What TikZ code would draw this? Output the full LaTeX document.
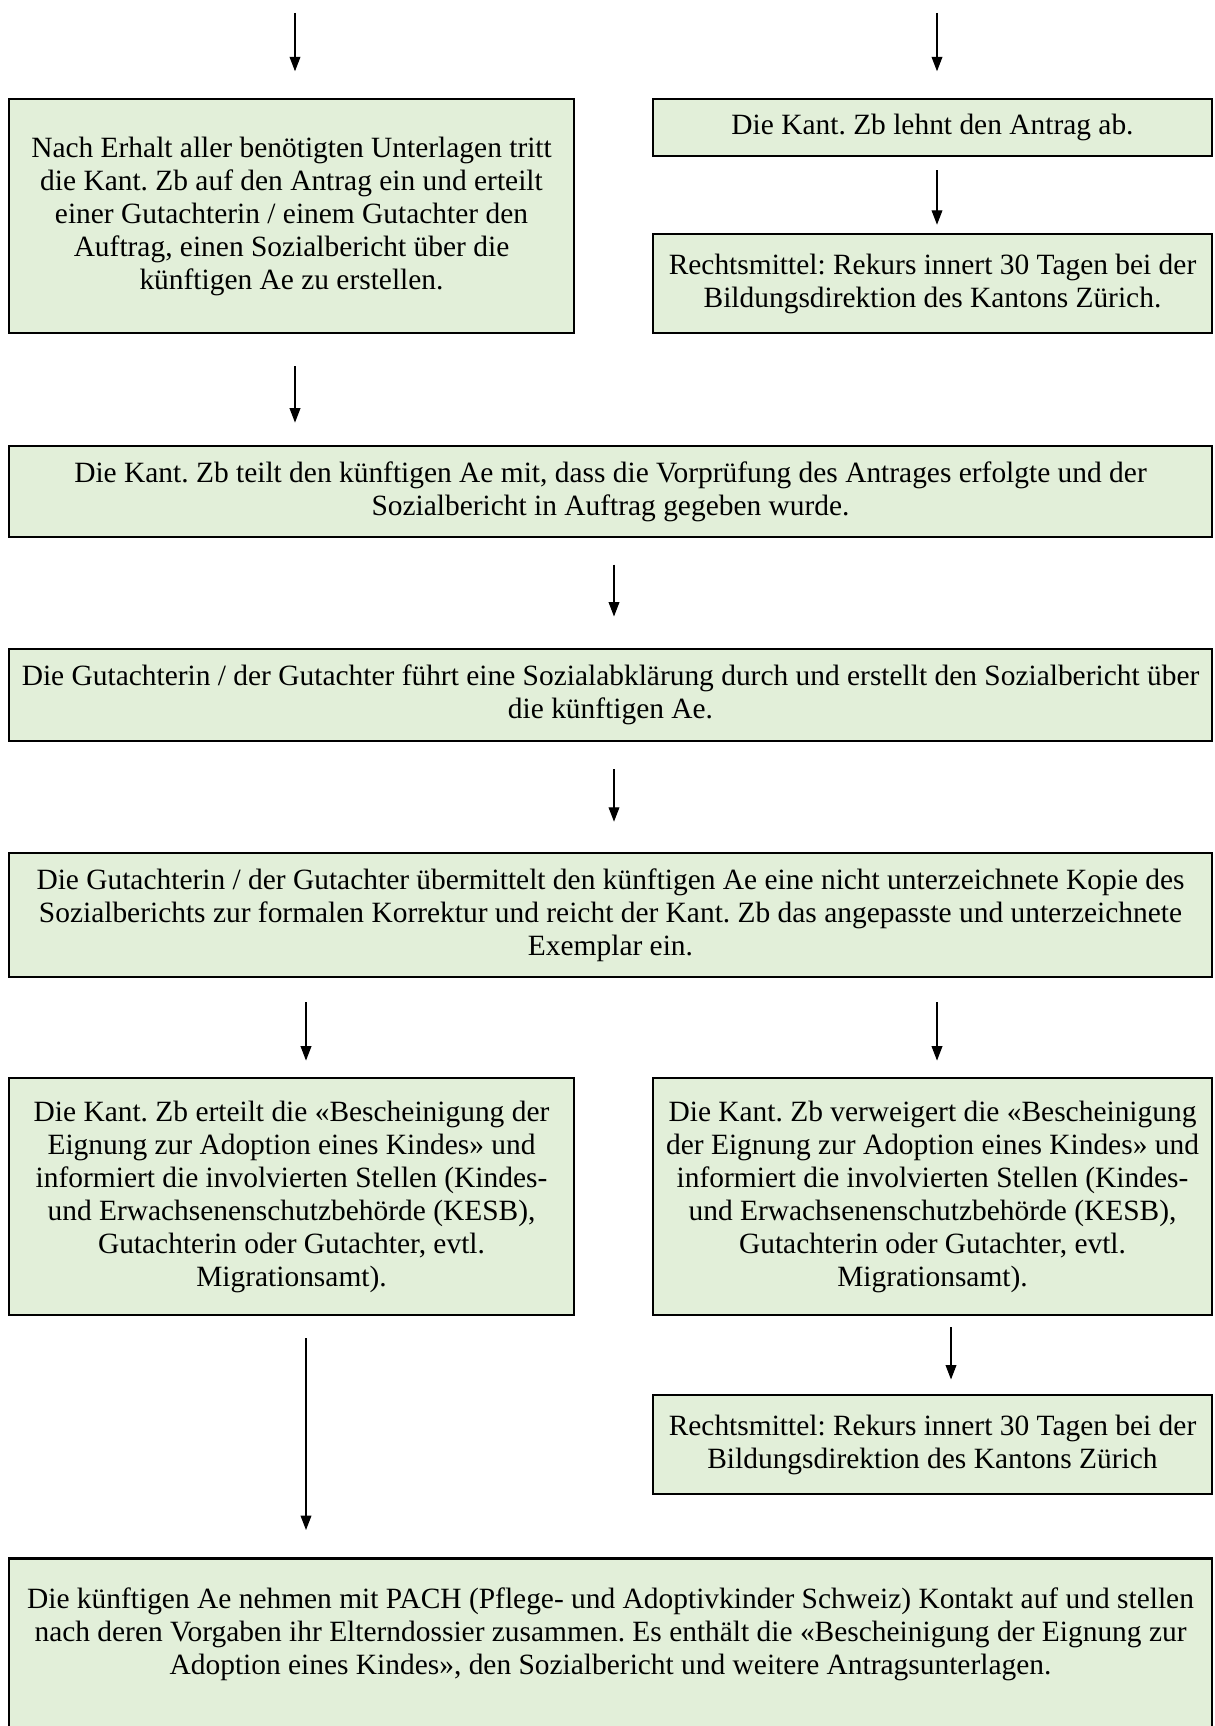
\documentclass[tikz,border=0pt]{standalone}
\usepackage{fontspec}
\setmainfont{Liberation Serif}
\usetikzlibrary{arrows.meta}
\definecolor{cbox}{HTML}{E2EFD9}
\newcommand{\pxu}{0.418pt}
\frenchspacing
\tikzset{
  stepbox/.style={draw, line width=1.2pt, fill=cbox, align=center, inner sep=0pt, font=\fontsize{12.3}{13.8}\selectfont},
  boxtext/.style={align=center, inner sep=0pt, font=\fontsize{12.3}{13.8}\selectfont},
  arr/.style={-{Triangle[width=4.5pt,length=6pt]}, line width=0.45pt},
}
\begin{document}
\begin{tikzpicture}[x=0.418pt,y=-0.418pt]
\useasboundingbox (0,0) rectangle (1215,1726);
\clip (0,0) rectangle (1215,1726);
% columns of the arrows
\coordinate (cL) at (295,0);
\coordinate (cR) at (937,0);
\coordinate (cM) at (614,0);
\coordinate (cL2) at (306,0);
\coordinate (cR2) at (951,0);
\coordinate (inL) at (295,13);
\coordinate (inR) at (937,13);
% boxes
\node[stepbox, minimum width=565*\pxu, minimum height=234*\pxu] (L1) at (291.5,216)
  {Nach Erhalt aller benötigten Unterlagen tritt\\die Kant. Zb auf den Antrag ein und erteilt\\einer Gutachterin / einem Gutachter den\\Auftrag, einen Sozialbericht über die\\künftigen Ae zu erstellen.};
\node[stepbox, minimum width=559*\pxu, minimum height=57*\pxu] (R1) at (932.5,127.5)
  {Die Kant. Zb lehnt den Antrag ab.};
\node[stepbox, minimum width=559*\pxu, minimum height=99*\pxu] (R2) at (932.5,283.5)
  {Rechtsmittel: Rekurs innert 30 Tagen bei der\\Bildungsdirektion des Kantons Zürich.};
\node[stepbox, minimum width=1203*\pxu, minimum height=91*\pxu] (B3) at (610.5,491.5)
  {Die Kant. Zb teilt den künftigen Ae mit, dass die Vorprüfung des Antrages erfolgte und der\\Sozialbericht in Auftrag gegeben wurde.};
\node[stepbox, minimum width=1203*\pxu, minimum height=92*\pxu] (B4) at (610.5,695)
  {Die Gutachterin / der Gutachter führt eine Sozialabklärung durch und erstellt den Sozialbericht über\\die künftigen Ae.};
\node[stepbox, minimum width=1203*\pxu, minimum height=124*\pxu] (B5) at (610.5,915)
  {Die Gutachterin / der Gutachter übermittelt den künftigen Ae eine nicht unterzeichnete Kopie des\\Sozialberichts zur formalen Korrektur und reicht der Kant. Zb das angepasste und unterzeichnete\\Exemplar ein.};
\node[stepbox, minimum width=565*\pxu, minimum height=237*\pxu] (L6) at (291.5,1196.5)
  {Die Kant. Zb erteilt die «Bescheinigung der\\Eignung zur Adoption eines Kindes» und\\informiert die involvierten Stellen (Kindes-\\und Erwachsenenschutzbehörde (KESB),\\Gutachterin oder Gutachter, evtl.\\Migrationsamt).};
\node[stepbox, minimum width=559*\pxu, minimum height=237*\pxu] (R6) at (932.5,1196.5)
  {Die Kant. Zb verweigert die «Bescheinigung\\der Eignung zur Adoption eines Kindes» und\\informiert die involvierten Stellen (Kindes-\\und Erwachsenenschutzbehörde (KESB),\\Gutachterin oder Gutachter, evtl.\\Migrationsamt).};
\node[stepbox, minimum width=559*\pxu, minimum height=99*\pxu] (R7) at (932.5,1444.5)
  {Rechtsmittel: Rekurs innert 30 Tagen bei der\\Bildungsdirektion des Kantons Zürich};
\node[stepbox, anchor=north, minimum width=1203*\pxu, minimum height=200*\pxu] (B8) at (610.5,1557) {};
\node[boxtext] (B8txt) at (610.5,1634)
  {Die künftigen Ae nehmen mit PACH (Pflege- und Adoptivkinder Schweiz) Kontakt auf und stellen\\nach deren Vorgaben ihr Elterndossier zusammen. Es enthält die «Bescheinigung der Eignung zur\\Adoption eines Kindes», den Sozialbericht und weitere Antragsunterlagen.};
% arrows
\draw[arr, shorten >=11pt] (inL) -- (L1.north -| inL);
\draw[arr, shorten >=11pt] (inR) -- (R1.north -| inR);
\foreach \from/\to/\col/\s/\e in {R1/R2/cR/5.4pt/3.3pt, L1/B3/cL/13.4pt/9.2pt, B3/B4/cM/10.9pt/13pt, B4/B5/cM/11.3pt/12.5pt, B5/L6/cL2/10pt/6.7pt, B5/R6/cR/10pt/6.7pt, R6/R7/cR2/4.6pt/5.9pt, L6/B8/cL2/9.2pt/11.3pt}{
  \draw[arr, shorten <=\s, shorten >=\e] (\from.south -| \col) -- (\to.north -| \col);
}
\end{tikzpicture}
\end{document}
